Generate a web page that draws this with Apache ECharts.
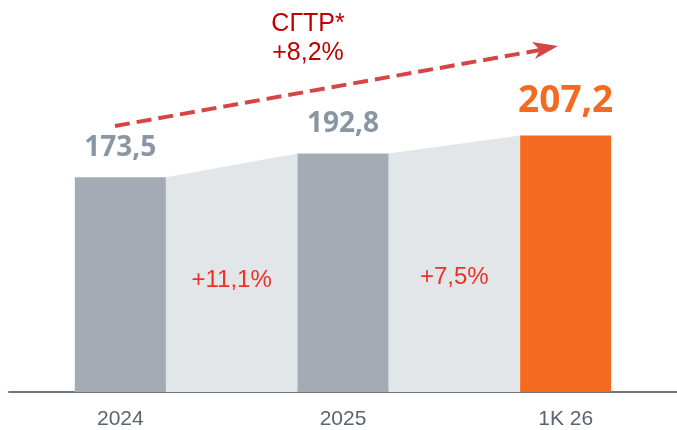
<!DOCTYPE html>
<html>
<head>
<meta charset="utf-8">
<script src="https://cdn.jsdelivr.net/npm/echarts@6/dist/echarts.min.js"></script>
<style>
  html, body { margin: 0; padding: 0; background: #fff; }
  #chart { width: 677px; height: 430px; }
</style>
</head>
<body>
<div id="chart"></div>
<script>
const categories = ['2024', '2025', '1K 26'];
const values = [173.5, 192.8, 207.2];
const barColors = ['#a4abb4', '#a4abb4', '#f46a21'];
const growthLabels = ['+11,1%', '+7,5%'];
const cagrTitle = 'СГТР*';
const cagrValue = '+8,2%';

const BAR_W = 91;
const fmt = (v) => String(v).replace('.', ',');

// shaded bands between neighbouring bars
const bandData = growthLabels.map((g, i) => [i, values[i], values[i + 1], g]);

const chart = echarts.init(document.getElementById('chart'));
chart.setOption({
  animation: false,
  grid: { left: 9, width: 672, top: 95, bottom: 36 },
  xAxis: {
    type: 'category',
    data: categories,
    axisTick: { show: false },
    axisLine: { lineStyle: { color: '#6e7883', width: 2 } },
    axisLabel: {
      color: '#5b6570',
      fontSize: 21,
      fontFamily: 'Liberation Sans',
      margin: 17
    }
  },
  yAxis: { type: 'value', min: 0, max: 240, show: false, splitLine: { show: false } },
  series: [
    {
      type: 'custom',
      z: 1,
      data: bandData,
      renderItem: function (params, api) {
        const i = api.value(0);
        const a = api.coord([i, api.value(1)]);
        const b = api.coord([i + 1, api.value(2)]);
        const base = api.coord([i, 0])[1];
        const x0 = a[0] + BAR_W / 2;
        const x1 = b[0] - BAR_W / 2;
        const mid = api.coord([i + 0.5, 90 + i * 3]);
        return {
          type: 'group',
          children: [
            {
              type: 'polygon',
              shape: { points: [[x0, a[1]], [x1, b[1]], [x1, base], [x0, base]] },
              style: { fill: '#e2e6e9' }
            },
            {
              type: 'text',
              style: {
                x: (x0 + x1) / 2,
                y: mid[1],
                text: api.value(3),
                fill: '#ee3124',
                font: '24px "Liberation Sans"',
                align: 'center',
                verticalAlign: 'middle'
              }
            }
          ]
        };
      }
    },
    {
      type: 'bar',
      z: 2,
      barWidth: BAR_W,
      data: values.map((v, i) => ({
        value: v,
        itemStyle: { color: barColors[i] },
        label: i === values.length - 1
          ? { color: '#f46a21', fontSize: 37, distance: 16 }
          : {}
      })),
      label: {
        show: true,
        position: 'top',
        distance: 15,
        color: '#8a96a1',
        fontSize: 28,
        fontWeight: 'bold',
        fontFamily: 'Open Sans',
        formatter: (p) => fmt(p.value)
      }
    }
  ],
  graphic: [
    {
      type: 'polyline',
      shape: { points: [[115, 126], [540, 50]] },
      style: { stroke: '#d64545', lineWidth: 4, lineDash: [15, 7] }
    },
    {
      type: 'polygon',
      shape: { points: [[558, 46], [532, 42], [540, 50], [535, 59]] },
      style: { fill: '#d64545' }
    },
    {
      type: 'text',
      style: {
        x: 308, y: 24, text: cagrTitle, fill: '#c00000',
        font: '25px "Liberation Sans"', align: 'center', verticalAlign: 'middle'
      }
    },
    {
      type: 'text',
      style: {
        x: 308, y: 53, text: cagrValue, fill: '#c00000',
        font: '25px "Liberation Sans"', align: 'center', verticalAlign: 'middle'
      }
    }
  ]
});
</script>
</body>
</html>
